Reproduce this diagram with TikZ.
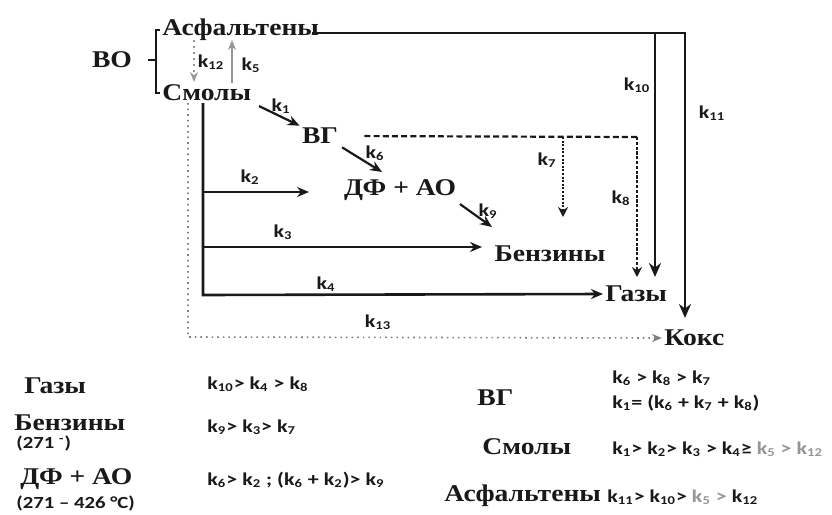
\documentclass[tikz,border=0pt]{standalone}
\usepackage{fontspec}
\setmainfont{Liberation Serif}
\newfontfamily\namefont[FakeStretch=1.15]{Liberation Serif}
\newfontfamily\kfont[FakeStretch=1.22]{Carlito}
\usetikzlibrary{arrows.meta, positioning, calc}
\definecolor{ink}{RGB}{25,25,25}
\definecolor{kgray}{RGB}{150,150,150}
\newcommand{\kk}[1]{k\textsubscript{#1}}

\begin{document}
\begin{tikzpicture}[
    x=0.5pt, y=-0.5pt,
    species/.style={font=\namefont\bfseries\fontsize{12}{13}\selectfont, inner sep=1pt, text=ink},
    klab/.style={font=\kfont\bfseries\fontsize{9}{10}\selectfont, inner sep=1pt, text=ink},
    rel/.style={font=\kfont\bfseries\fontsize{9}{11}\selectfont, inner sep=1pt, anchor=west, text=ink},
    temp/.style={font=\kfont\bfseries\fontsize{8.5}{9}\selectfont, inner sep=0.5pt, anchor=west, text=ink},
    brace/.style={line width=1pt, draw=ink},
    flow/.style={-{Stealth[length=6pt,width=5pt]}, line width=1.1pt, draw=ink},
    main/.style={-{Stealth[length=7pt,width=6pt]}, line width=1.4pt, draw=ink},
    dashline/.style={line width=1.1pt, draw=ink, dash pattern=on 3pt off 1.6pt},
    dashflow/.style={-{Stealth[length=5pt,width=5pt]}, line width=1.2pt, draw=ink, dash pattern=on 1.6pt off 0.8pt},
    dotflow/.style={-{Stealth[length=5pt,width=5pt,open]}, line width=1.2pt, draw=ink, dash pattern=on 1pt off 0.8pt},
    grayflow/.style={-{Stealth[length=5pt,width=4pt]}, line width=1pt, draw=kgray},
    cokeflow/.style={-{Stealth[length=5pt,width=4pt]}, line width=0.8pt, draw=gray, dotted}
]
\useasboundingbox (0,0) rectangle (832,515);

    % Species
    \node[species] (vo) at (112,60) {ВО};
    \node[species, anchor=west] (asf) at (160,30) {Асфальтены};
    \node[species, anchor=west] (smo) at (160,93) {Смолы};
    \node[species] (vg) at (320,136) {ВГ};
    \node[species] (dfao) at (400,190) {ДФ + АО};
    \node[species] (benz) at (550,254) {Бензины};
    \node[species, anchor=west] (gaz) at (603,294) {Газы};
    \node[species, anchor=west] (koks) at (662,338) {Кокс};

    % Helper points
    \coordinate (brT) at (156,30);
    \coordinate (brB) at (156,93);
    \coordinate (brM) at (156,60);
    \coordinate (brN) at (148,60);
    \coordinate (k12a) at (194,40);
    \coordinate (k12b) at (194,82);
    \coordinate (k5a) at (232,83);
    \coordinate (k5b) at (232,40);
    \coordinate (a0) at (312,33);
    \coordinate (t10) at (655,33);
    \coordinate (t11) at (685,33);
    \coordinate (e10) at (655,277);
    \coordinate (e11) at (685,318);
    \coordinate (d7) at (563,137);
    \coordinate (d8) at (637,137);
    \coordinate (e7) at (563,217);
    \coordinate (e8) at (637,277);
    \coordinate (s0) at (203,103);
    \coordinate (s2) at (203,192);
    \coordinate (s3) at (203,247);
    \coordinate (s4) at (203,295);
    \coordinate (e2) at (309,192);
    \coordinate (e3) at (482,247);
    \coordinate (c0) at (188,103);
    \coordinate (c1) at (188,337);
    \coordinate (e6) at (382,172);
    \coordinate (e9) at (492,227);

    % Bracket
    \draw[brace] (asf.west) -- (brT) -- (brB) -- (smo.west);
    \draw[brace] (brN) -- (brM);

    % Arrows
    \draw[grayflow, dotted] (k12a) -- (k12b);
    \draw[grayflow] (k5a) -- (k5b);
    \draw[main] (a0) -- (t11) -- (e11);
    \draw[main] (t10) -- (e10);
    \draw[flow, shorten <=3pt] (smo.south east) -- (vg.north west);
    \draw[flow, shorten <=1pt] (vg.south east) -- (e6);
    \draw[flow, shorten <=1pt] (dfao.south east) -- (e9);
    \draw[dashline, shorten <=12pt] (vg.east) -- (d8);
    \draw[dashflow] (d8) -- (e8);
    \draw[dotflow] (d7) -- (e7);
    \draw[flow, line width=1.3pt] (s0) -- (s4) -- (gaz.west);
    \draw[flow] (s2) -- (e2);
    \draw[flow] (s3) -- (e3);
    \draw[cokeflow] (c0) -- (c1) -- (koks.west);

    % Rate constants
    \node[klab] (l1) at (281,106) {\kk{1}};
    \node[klab] (l2) at (250,177) {\kk{2}};
    \node[klab] (l3) at (283,232) {\kk{3}};
    \node[klab] (l4) at (326,284) {\kk{4}};
    \node[klab] (l5) at (251,65) {\kk{5}};
    \node[klab] (l6) at (375,153) {\kk{6}};
    \node[klab] (l7) at (547,160) {\kk{7}};
    \node[klab] (l8) at (621,198) {\kk{8}};
    \node[klab] (l9) at (488,211) {\kk{9}};
    \node[klab] (l10) at (637,85) {\kk{10}};
    \node[klab] (l11) at (712,113) {\kk{11}};
    \node[klab] (l12) at (211,62) {\kk{12}};
    \node[klab] (l13) at (378,322) {\kk{13}};

    % Table of relations
    \node[species, anchor=west] (tgaz) at (22,386) {Газы};
    \node[rel] (rgaz) at (205,384) {\kk{10}> \kk{4} > \kk{8}};
    \node[species, anchor=west] (tbenz) at (12,423) {Бензины};
    \node[temp] (tbenzt) at (15,443) {(271 \textsuperscript{-})};
    \node[rel] (rbenz) at (205,427) {\kk{9}> \kk{3}> \kk{7}};
    \node[species, anchor=west] (tdf) at (18,479) {ДФ + АО};
    \node[temp] (tdft) at (15,503) {(271 – 426 °C)};
    \node[rel] (rdf) at (205,480) {\kk{6}> \kk{2} ; (\kk{6} + \kk{2})> \kk{9}};
    \node[species, anchor=west] (tvg) at (475,398) {ВГ};
    \node[rel] (rvga) at (610,378) {\kk{6} > \kk{8} > \kk{7}};
    \node[rel] (rvgb) at (610,403) {\kk{1}= (\kk{6} + \kk{7} + \kk{8})};
    \node[species, anchor=west] (tsmo) at (480,447) {Смолы};
    \node[rel] (rsmo) at (610,449) {\kk{1}> \kk{2}> \kk{3} > \kk{4}≥ {\color{kgray}\kk{5} > \kk{12}}};
    \node[species, anchor=west] (tasf) at (442,496) {Асфальтены};
    \node[rel] (rasf) at (605,497) {\kk{11}> \kk{10}> {\color{kgray}\kk{5} >} \kk{12}};

\end{tikzpicture}
\end{document}
